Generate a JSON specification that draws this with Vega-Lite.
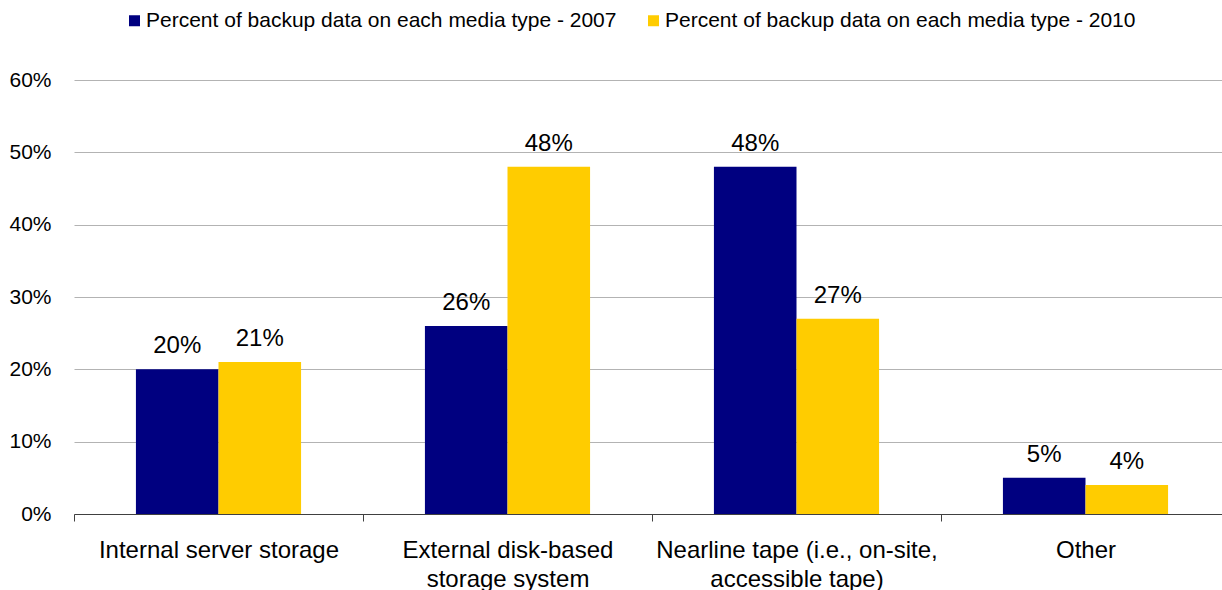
{
  "$schema": "https://vega.github.io/schema/vega-lite/v6.json",
  "width": 1156,
  "height": 434,
  "autosize": "none",
  "padding": {"left": 74, "top": 80, "right": 0, "bottom": 76},
  "background": "white",
  "config": {
    "font": "Liberation Sans",
    "view": {"stroke": null}
  },
  "data": {
    "values": [
      {"category": "Internal server storage", "series": "Percent of backup data on each media type - 2007", "value": 0.20},
      {"category": "Internal server storage", "series": "Percent of backup data on each media type - 2010", "value": 0.21},
      {"category": "External disk-based storage system", "series": "Percent of backup data on each media type - 2007", "value": 0.26},
      {"category": "External disk-based storage system", "series": "Percent of backup data on each media type - 2010", "value": 0.48},
      {"category": "Nearline tape (i.e., on-site, accessible tape)", "series": "Percent of backup data on each media type - 2007", "value": 0.48},
      {"category": "Nearline tape (i.e., on-site, accessible tape)", "series": "Percent of backup data on each media type - 2010", "value": 0.27},
      {"category": "Other", "series": "Percent of backup data on each media type - 2007", "value": 0.05},
      {"category": "Other", "series": "Percent of backup data on each media type - 2010", "value": 0.04}
    ]
  },
  "encoding": {
    "x": {
      "field": "category",
      "type": "nominal",
      "sort": null,
      "scale": {"paddingInner": 0, "paddingOuter": 0},
      "axis": {
        "title": null,
        "labelAngle": 0,
        "labelFontSize": 24,
        "labelColor": "#000000",
        "labelPadding": 17,
        "labelLineHeight": 29,
        "labelBaseline": "top",
        "labelLimit": 0,
        "tickBand": "extent",
        "tickSize": 7,
        "tickColor": "#404040",
        "domainColor": "#404040",
        "grid": false,
        "labelExpr": "datum.label == 'External disk-based storage system' ? ['External disk-based', 'storage system'] : datum.label == 'Nearline tape (i.e., on-site, accessible tape)' ? ['Nearline tape (i.e., on-site,', 'accessible tape)'] : datum.label"
      }
    },
    "xOffset": {
      "field": "series",
      "type": "nominal",
      "scale": {"paddingInner": 0, "paddingOuter": 0.75}
    },
    "y": {
      "field": "value",
      "type": "quantitative",
      "scale": {"domain": [0, 0.6]},
      "axis": {
        "title": null,
        "format": ".0%",
        "values": [0, 0.1, 0.2, 0.3, 0.4, 0.5, 0.6],
        "labelFontSize": 21,
        "labelColor": "#000000",
        "labelPadding": 23,
        "ticks": false,
        "domain": false,
        "gridColor": "#b3b3b3",
        "gridWidth": 1.2
      }
    }
  },
  "layer": [
    {
      "mark": {"type": "bar"},
      "encoding": {
        "color": {
          "field": "series",
          "type": "nominal",
          "scale": {"range": ["#000080", "#FFCC00"]},
          "legend": {
            "title": null,
            "orient": "none",
            "direction": "horizontal",
            "legendX": 50,
            "legendY": -70,
            "symbolType": "square",
            "symbolSize": 121,
            "symbolStrokeWidth": 0,
            "labelFontSize": 21,
            "labelColor": "#000000",
            "labelOffset": 1,
            "columnPadding": 26,
            "labelLimit": 700
          }
        }
      }
    },
    {
      "mark": {"type": "text", "baseline": "alphabetic", "dy": -16, "fontSize": 24, "color": "#000000"},
      "encoding": {
        "text": {"field": "value", "type": "quantitative", "format": ".0%"}
      }
    }
  ]
}
